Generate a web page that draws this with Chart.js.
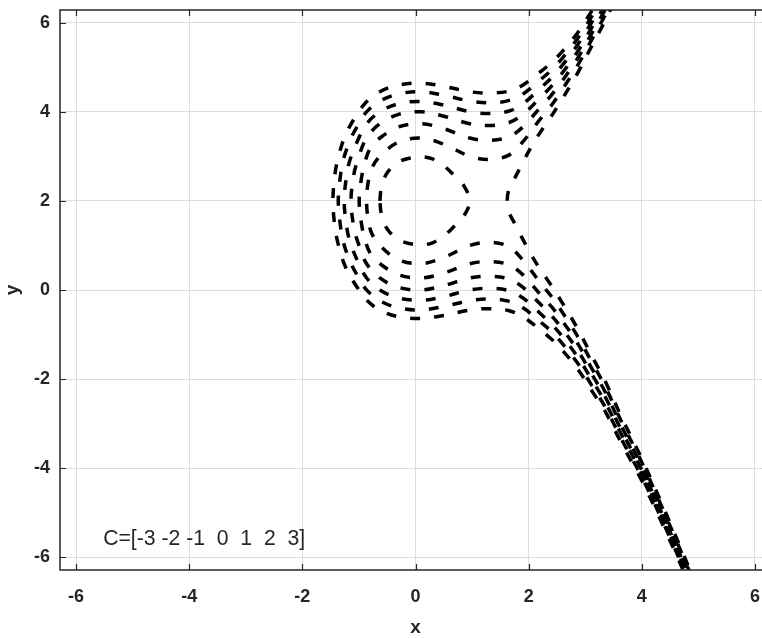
<!DOCTYPE html>
<html>
<head>
<meta charset="utf-8">
<script src="https://cdn.jsdelivr.net/npm/chart.js@4.4.1/dist/chart.umd.min.js"></script>
<style>
  html, body { margin: 0; padding: 0; background: #fff; overflow: hidden; }
  #wrap { position: absolute; left: 0; top: 0; width: 790px; height: 638px; }
</style>
</head>
<body>
<div id="wrap"><canvas id="plot" width="790" height="638"></canvas></div>
<script>
/* global Chart */
const levels = [-3, -2, -1, 0, 1, 2, 3];
const xTicks = [-6, -4, -2, 0, 2, 4, 6];
const yTicks = [-6, -4, -2, 0, 2, 4, 6];
const legendText = 'C=[-3 -2 -1  0  1  2  3]';

// level 3
const xG = [3.35, 3.12, 2.87, 2.6, 2.4, 2.2, 1.9, 1.64, 1.3, 0.96, 0.5, 0.1, -0.3, -0.63, -0.87, -1.02, -1.15, -1.27, -1.37, -1.42, -1.46,
  -1.42, -1.37, -1.27, -1.15, -1.02, -0.87, -0.63, -0.3, 0.1, 0.5, 0.96, 1.3, 1.64, 1.9, 2.2, 2.4, 2.6, 2.87, 3.12, 3.35, 3.65, 4.0, 4.4, 4.9];
const yG = [6.72, 6.27, 5.78, 5.36, 5.10, 4.89, 4.60, 4.46, 4.42, 4.45, 4.57, 4.64, 4.60, 4.45, 4.22, 3.96, 3.70, 3.38, 2.95, 2.63, 2.0,
  1.37, 1.05, 0.62, 0.30, 0.04, -0.22, -0.45, -0.60, -0.64, -0.57, -0.45, -0.42, -0.46, -0.60, -0.89, -1.10, -1.36, -1.78, -2.27, -2.72, -3.46, -4.28, -5.35, -6.77];

// level 2
const xF = [3.35, 3.12, 2.87, 2.6, 2.4, 2.2, 1.9, 1.64, 1.3, 0.96, 0.5, 0.1, -0.3, -0.63, -0.87, -1.02, -1.15, -1.27, -1.32, -1.365,
  -1.32, -1.27, -1.15, -1.02, -0.87, -0.63, -0.3, 0.1, 0.5, 0.96, 1.3, 1.64, 1.9, 2.2, 2.4, 2.6, 2.87, 3.12, 3.35, 3.65, 4.0, 4.4, 4.9];
const yF = [6.62, 6.15, 5.65, 5.21, 4.93, 4.71, 4.40, 4.25, 4.20, 4.24, 4.37, 4.45, 4.40, 4.24, 3.99, 3.69, 3.38, 2.95, 2.63, 2.0,
  1.37, 1.05, 0.62, 0.31, 0.01, -0.24, -0.40, -0.45, -0.37, -0.24, -0.20, -0.25, -0.40, -0.71, -0.93, -1.21, -1.65, -2.15, -2.62, -3.37, -4.20, -5.28, -6.72];

// level 1
const xE = [3.35, 3.12, 2.87, 2.6, 2.4, 2.2, 1.9, 1.64, 1.3, 0.96, 0.5, 0.1, -0.3, -0.63, -0.87, -1.02, -1.15, -1.21, -1.26,
  -1.21, -1.15, -1.02, -0.87, -0.63, -0.3, 0.1, 0.5, 0.96, 1.3, 1.64, 1.9, 2.2, 2.4, 2.6, 2.87, 3.12, 3.35, 3.65, 4.0, 4.4, 4.9];
const yE = [6.51, 6.02, 5.51, 5.05, 4.76, 4.52, 4.18, 4.01, 3.96, 4.0, 4.15, 4.23, 4.18, 4.0, 3.72, 3.36, 2.95, 2.63, 2.0,
  1.37, 1.05, 0.64, 0.28, 0.0, -0.18, -0.23, -0.15, 0.0, 0.04, -0.01, -0.18, -0.52, -0.76, -1.05, -1.51, -2.02, -2.51, -3.27, -4.12, -5.21, -6.66];

// level 0
const xD = [3.35, 3.12, 2.87, 2.6, 2.4, 2.2, 1.9, 1.64, 1.3, 0.96, 0.5, 0.1, -0.3, -0.63, -0.87, -1.02, -1.09, -1.14,
  -1.09, -1.02, -0.87, -0.63, -0.3, 0.1, 0.5, 0.96, 1.3, 1.64, 1.9, 2.2, 2.4, 2.6, 2.87, 3.12, 3.35, 3.65, 4.0, 4.4, 4.9];
const yD = [6.39, 5.90, 5.36, 4.88, 4.57, 4.31, 3.94, 3.75, 3.69, 3.73, 3.90, 4.0, 3.94, 3.73, 3.40, 2.92, 2.59, 2.0,
  1.41, 1.08, 0.60, 0.27, 0.06, 0.0, 0.10, 0.27, 0.31, 0.25, 0.06, -0.31, -0.57, -0.88, -1.36, -1.90, -2.39, -3.18, -4.04, -5.14, -6.60];

// level -1
const xC = [3.35, 3.12, 2.87, 2.6, 2.4, 2.2, 1.9, 1.64, 1.3, 0.96, 0.5, 0.1, -0.3, -0.63, -0.78, -0.87, -0.95, -0.995,
  -0.95, -0.87, -0.78, -0.63, -0.3, 0.1, 0.5, 0.96, 1.3, 1.64, 1.9, 2.2, 2.4, 2.6, 2.87, 3.12, 3.35, 3.65, 4.0, 4.4, 4.9];
const yC = [6.28, 5.77, 5.21, 4.70, 4.37, 4.09, 3.66, 3.43, 3.36, 3.41, 3.62, 3.73, 3.66, 3.41, 3.22, 2.97, 2.55, 2.0,
  1.45, 1.03, 0.78, 0.59, 0.34, 0.27, 0.38, 0.59, 0.64, 0.57, 0.34, -0.09, -0.37, -0.70, -1.21, -1.77, -2.28, -3.08, -3.96, -5.07, -6.54];

// level -2
const xB = [3.35, 3.12, 2.87, 2.6, 2.4, 2.2, 1.9, 1.64, 1.3, 0.96, 0.5, 0.1, -0.3, -0.63, -0.78, -0.84, -0.865,
  -0.84, -0.78, -0.63, -0.3, 0.1, 0.5, 0.96, 1.3, 1.64, 1.9, 2.2, 2.4, 2.6, 2.87, 3.12, 3.35, 3.65, 4.0, 4.4, 4.9];
const yB = [6.16, 5.63, 5.05, 4.51, 4.14, 3.83, 3.33, 3.02, 2.93, 3.0, 3.27, 3.41, 3.32, 3.0, 2.71, 2.39, 2.0,
  1.61, 1.29, 1.0, 0.68, 0.59, 0.73, 1.0, 1.07, 0.98, 0.67, 0.17, -0.14, -0.51, -1.05, -1.63, -2.16, -2.98, -3.87, -5.0, -6.49];

// level -3, closed loop
const xA = [-0.63, -0.6, -0.5, -0.3, -0.1, 0.1, 0.3, 0.5, 0.7, 0.85, 0.96, 0.85, 0.7, 0.5, 0.3, 0.1, -0.1, -0.3, -0.5, -0.6, -0.63];
const yA = [2.0, 2.32, 2.63, 2.87, 2.96, 2.99, 2.94, 2.79, 2.55, 2.35, 2.0, 1.65, 1.45, 1.21, 1.06, 1.01, 1.04, 1.13, 1.37, 1.68, 2.0];

// level -3, right branch
const xA2 = [3.5, 3.35, 3.12, 2.87, 2.6, 2.4, 2.2, 2.05, 1.9, 1.75, 1.65, 1.62,
  1.65, 1.75, 1.9, 2.05, 2.2, 2.4, 2.6, 2.87, 3.12, 3.35, 3.65, 4.0, 4.4, 4.9];
const yA2 = [6.45, 6.04, 5.49, 4.88, 4.30, 3.90, 3.53, 3.22, 2.87, 2.5, 2.25, 2.0,
  1.75, 1.5, 1.13, 0.78, 0.47, 0.10, -0.30, -0.88, -1.49, -2.04, -2.88, -3.79, -4.93, -6.43];

const curves = [
  [xA, yA], [xA2, yA2], [xB, yB], [xC, yC], [xD, yD], [xE, yE], [xF, yF], [xG, yG],
];

const LIM = 2 * Math.PI;
const AXIS_COLOR = '#262626';
const tickFont = { family: 'Liberation Sans, Arial, sans-serif', size: 18, weight: 'bold' };

const toPoints = function (xs, ys) {
  return xs.map(function (x, i) {
    return { x: x, y: ys[i] };
  });
};

const datasets = curves.map(function (c) {
  return {
    data: toPoints(c[0], c[1]),
    showLine: true,
    borderColor: '#000',
    borderWidth: 3.5,
    borderDash: [10, 14],
    borderCapStyle: 'butt',
    pointRadius: 0,
    tension: 0.35,
    fill: false,
  };
});

/* box, inward ticks, axis titles and the C text */
const matlabAxes = {
  id: 'matlabAxes',
  afterDraw: function (chart) {
    const ctx = chart.ctx;
    const a = chart.chartArea;
    const xs = chart.scales.x;
    const ys = chart.scales.y;
    ctx.save();
    ctx.strokeStyle = AXIS_COLOR;
    ctx.lineWidth = 1.5;
    ctx.strokeRect(a.left, a.top, a.right - a.left, a.bottom - a.top);

    ctx.lineWidth = 1.2;
    ctx.beginPath();
    xTicks.forEach(function (t) {
      const px = Math.round(xs.getPixelForValue(t)) + 0.5;
      ctx.moveTo(px, a.bottom);
      ctx.lineTo(px, a.bottom - 6);
      ctx.moveTo(px, a.top);
      ctx.lineTo(px, a.top + 6);
    });
    yTicks.forEach(function (t) {
      const py = Math.round(ys.getPixelForValue(t)) + 0.5;
      ctx.moveTo(a.left, py);
      ctx.lineTo(a.left + 6, py);
      ctx.moveTo(a.right, py);
      ctx.lineTo(a.right - 6, py);
    });
    ctx.stroke();

    ctx.fillStyle = AXIS_COLOR;
    ctx.font = 'bold 19px "Liberation Sans", Arial, sans-serif';
    ctx.textAlign = 'center';
    ctx.textBaseline = 'middle';
    ctx.fillText('x', (a.left + a.right) / 2, 628);
    ctx.save();
    ctx.translate(13, (a.top + a.bottom) / 2);
    ctx.rotate(-Math.PI / 2);
    ctx.fillText('y', 0, 0);
    ctx.restore();

    ctx.font = '21.2px "Liberation Sans", Arial, sans-serif';
    ctx.textAlign = 'left';
    ctx.textBaseline = 'alphabetic';
    ctx.fillText(legendText, xs.getPixelForValue(-5.52), ys.getPixelForValue(-5.72));
    ctx.restore();
  },
};

const ctx = document.getElementById('plot').getContext('2d');

// eslint-disable-next-line
const chart = new Chart(ctx, {
  type: 'scatter',
  data: { datasets: datasets },
  options: {
    responsive: false,
    animation: false,
    layout: { padding: { top: 10, right: 19, left: 0, bottom: 0 } },
    plugins: {
      legend: { display: false },
      tooltip: { enabled: false },
    },
    scales: {
      x: {
        type: 'linear',
        min: -LIM,
        max: LIM,
        afterBuildTicks: function (scale) {
          scale.ticks = xTicks.map(function (v) { return { value: v }; });
        },
        afterFit: function (scale) {
          scale.height = 68;
          scale.paddingLeft = 0;
          scale.paddingRight = 0;
        },
        grid: { color: '#dcdcdc', lineWidth: 1, drawTicks: false },
        border: { display: false },
        ticks: { color: AXIS_COLOR, font: tickFont, padding: 16, maxRotation: 0 },
      },
      y: {
        type: 'linear',
        min: -LIM,
        max: LIM,
        afterBuildTicks: function (scale) {
          scale.ticks = yTicks.map(function (v) { return { value: v }; });
        },
        afterFit: function (scale) {
          scale.width = 60;
          scale.paddingTop = 0;
          scale.paddingBottom = 0;
        },
        grid: { color: '#dcdcdc', lineWidth: 1, drawTicks: false },
        border: { display: false },
        ticks: { color: AXIS_COLOR, font: tickFont, padding: 10 },
      },
    },
  },
  plugins: [matlabAxes],
});
</script>
</body>
</html>
